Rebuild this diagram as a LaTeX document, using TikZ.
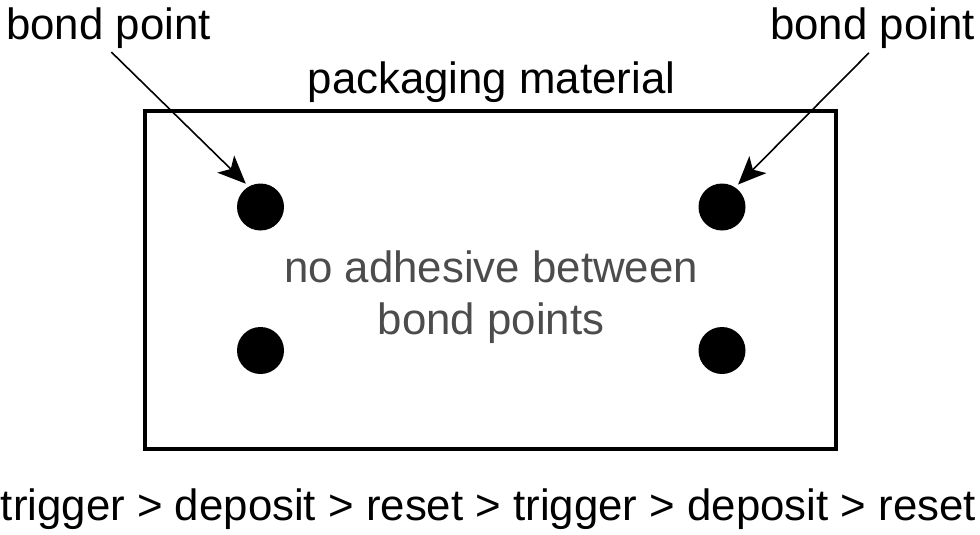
\documentclass[tikz,border=0pt]{standalone}
\usepackage{fontspec}
\setmainfont{Liberation Sans}
\usetikzlibrary{arrows.meta}
\tikzset{
  bondlabel/.style={anchor=base, inner sep=0pt, font=\fontsize{43.8}{52}\selectfont},
  bonddot/.style={circle, fill=black, draw=none, minimum size=47pt, inner sep=0pt},
  pointer/.style={line width=1.6pt, -{Stealth[length=28pt, width=24pt, inset=7pt]}},
}

\begin{document}
\begin{tikzpicture}[x=1pt, y=-1pt]
  %%%%% START %%%%%
  \useasboundingbox (0,0) rectangle (980,535);

  \node[draw, line width=4pt, minimum width=691pt, minimum height=338pt, inner sep=0pt] (pkg) at (490.9, 280) {};

  \node[bondlabel] (lbond) at (108.5, 40) {bond point};
  \node[bondlabel] (rbond) at (872.5, 40) {bond point};
  \node[bondlabel] (pkglabel) at (491.5, 93) {packaging material};

  \node[bondlabel, text=black!70] (note1) at (491, 282) {no adhesive between};
  \node[bondlabel, text=black!70] (note2) at (491, 334) {bond points};

  \node[bonddot] (dotA) at (260.5, 207) {};
  \node[bonddot] (dotB) at (722, 207) {};
  \node[bonddot] (dotC) at (260.5, 350.5) {};
  \node[bonddot] (dotD) at (722, 350.5) {};

  \draw[pointer, shorten <=4pt, shorten >=4pt] (lbond.south) -- (dotA.120);
  \draw[pointer, shorten <=5pt, shorten >=4pt] (rbond.south) -- (dotB.56);

  \node[bondlabel] (cycle) at (488.5, 520) {trigger > deposit > reset > trigger > deposit > reset};
  %%%%% END %%%%%
\end{tikzpicture}
\end{document}
